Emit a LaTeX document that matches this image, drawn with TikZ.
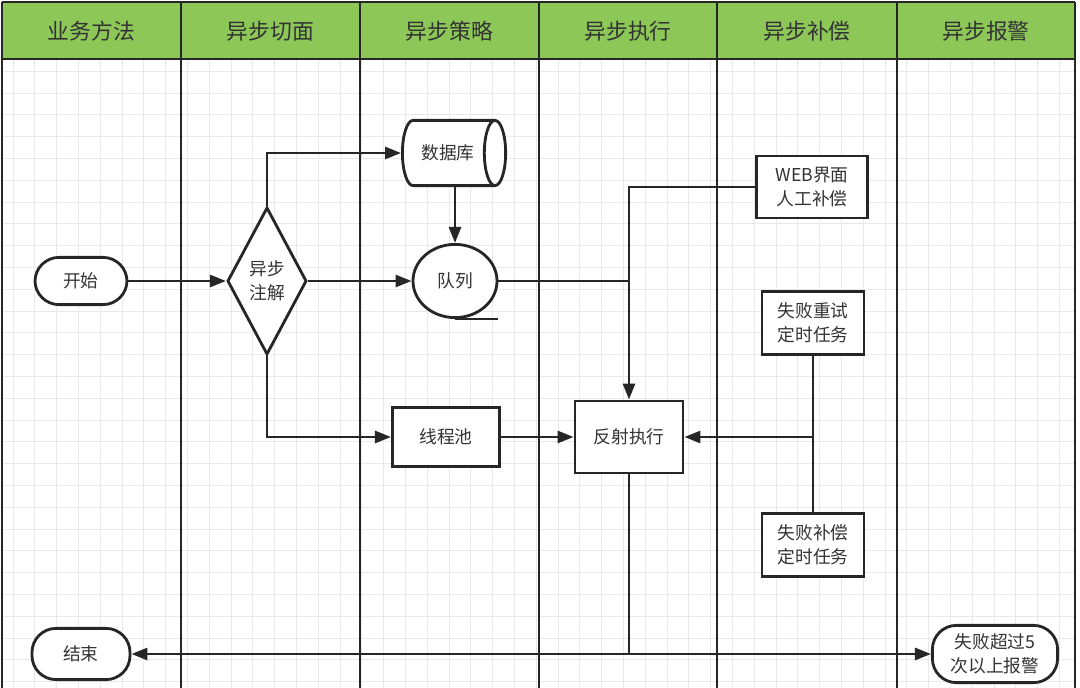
\documentclass[tikz,border=0pt]{standalone}
\usepackage{fontspec}
\setmainfont{Noto Sans CJK SC}
\usetikzlibrary{arrows.meta,shapes}
\definecolor{lanegreen}{RGB}{140,199,88}
\definecolor{gridgray}{RGB}{233,233,233}
\definecolor{inkgray}{RGB}{38,38,38}
\definecolor{textgray}{RGB}{51,51,51}

\begin{document}
\begin{tikzpicture}[x=0.025cm,y=-0.025cm,
  box/.style={draw=inkgray,line width=2pt,fill=white,text=textgray,
    font=\fontsize{12.6}{17}\selectfont,align=center,inner sep=0pt},
  term/.style={box,rounded corners=0.6cm},
  flow/.style={draw=inkgray,line width=1.9pt},
  arr/.style={flow,-{Triangle[length=0.4cm,width=0.3cm]}},
  lane/.style={draw=inkgray,line width=2.1pt},
  head/.style={text=textgray,font=\fontsize{15.5}{18}\selectfont}]
\useasboundingbox (0,0) rectangle (1080,688);

% background grid
\foreach \gx in {13,34.8,...,1080} \draw[gridgray,line width=0.6pt] (\gx,59) -- (\gx,688);
\foreach \gy in {71.2,93,...,688} \draw[gridgray,line width=0.6pt] (2,\gy) -- (1075,\gy);

% swimlanes
\fill[lanegreen] (2,2) rectangle (1075,59);
\draw[lane] (2,2) -- (1075,2);
\draw[lane] (2,59) -- (1075,59);
\foreach \lx in {2,181,360,539,717,897,1075} \draw[lane] (\lx,2) -- (\lx,688);
\node[head] (h1) at (91.5,31) {业务方法};
\node[head] (h2) at (270.5,31) {异步切面};
\node[head] (h3) at (449.5,31) {异步策略};
\node[head] (h4) at (628,31) {异步执行};
\node[head] (h5) at (807,31) {异步补偿};
\node[head] (h6) at (986,31) {异步报警};

% nodes
\node[term,minimum width=2.3cm,minimum height=1.18cm] (start) at (81,281) {开始};
\node[box,diamond,minimum width=1.98cm,minimum height=3.68cm] (aop) at (267,281) {异步\\注解};
\node[box,cylinder,shape aspect=1.3,minimum width=1.63cm,minimum height=2.58cm] (db) at (448,153) {数据库};
\node[box,ellipse,minimum width=2.1cm,minimum height=1.83cm] (queue) at (455,281) {队列};
\node[box,minimum width=2.68cm,minimum height=1.48cm] (pool) at (446,437) {线程池};
\node[box,minimum width=2.7cm,minimum height=1.8cm] (exec) at (629,437) {反射执行};
\node[box,minimum width=2.78cm,minimum height=1.55cm] (web) at (812,187) {WEB界面\\人工补偿};
\node[box,minimum width=2.55cm,minimum height=1.58cm] (retry) at (813,323) {失败重试\\定时任务};
\node[box,minimum width=2.55cm,minimum height=1.58cm] (comp) at (813,545) {失败补偿\\定时任务};
\node[term,minimum width=2.45cm,minimum height=1.28cm] (end) at (81,654) {结束};
\node[term,minimum width=3.13cm,minimum height=1.43cm] (alarm) at (995,654) {失败超过5\\次以上报警};

% connectors
\draw[flow] (queue.south) -- (queue.south -| queue.east);
\draw[arr] (start) -- (aop);
\draw[arr] (aop.north) |- (db);
\draw[arr] (aop) -- (queue);
\draw[arr] (aop.south) |- (pool);
\draw[arr] (queue.north |- db.south) -- (queue.north);
\draw[arr] (web) -| (exec);
\draw[flow] (queue.east) -- (queue.east -| exec.north);
\draw[arr] (pool) -- (exec);
\coordinate (tap) at (retry.south |- exec.east);
\draw[flow] (retry) -- (comp);
\draw[arr] (tap) -- (exec);
\coordinate (split) at (exec.south |- end.east);
\draw[flow] (exec) -- (split);
\draw[arr] (split) -- (end);
\draw[arr] (split) -- (alarm);
\end{tikzpicture}
\end{document}
